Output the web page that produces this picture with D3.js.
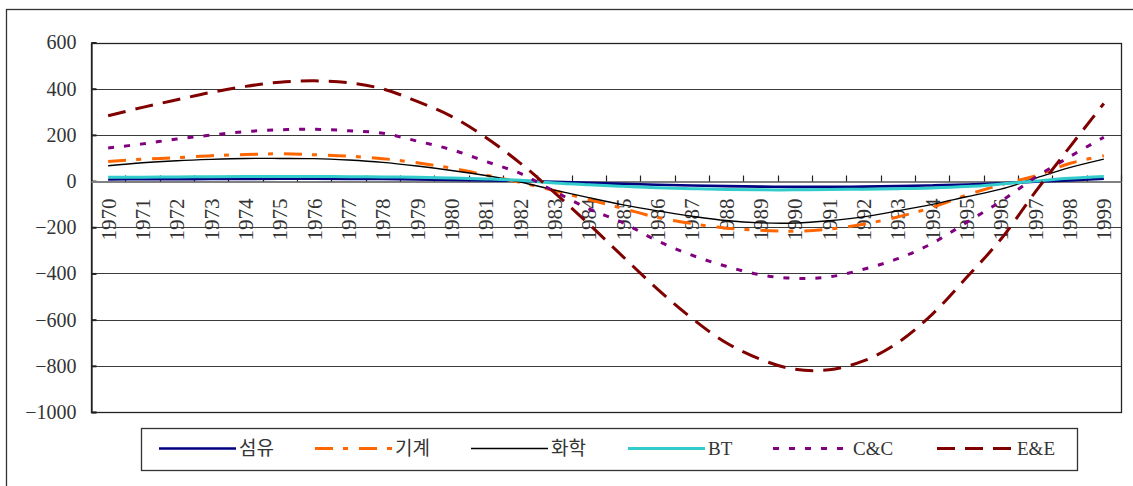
<!DOCTYPE html>
<html>
<head>
<meta charset="utf-8">
<script src="https://cdn.jsdelivr.net/npm/d3@7"></script>
<style>
  html, body { margin: 0; padding: 0; background: #fff; }
  svg { display: block; }
</style>
</head>
<body>
<script>
// Years on the category axis
const years = d3.range(1970, 2000).map(String);

// Series values by year, 1970–1999
const fiber     = [7, 8, 8, 9, 9, 10, 10, 9, 9, 7, 5, 3, 1, -3, -8, -12, -16, -19, -22, -24, -25, -25, -24, -22, -19, -15, -10, -3, 3, 10];
const machinery = [85, 95, 101, 110, 115, 118, 114, 108, 97, 79, 56, 26, -6, -42, -80, -119, -158, -184, -204, -213, -217, -208, -187, -155, -114, -61, -16, 22, 76, 110];
const chemical  = [66, 79, 88, 94, 98, 98, 97, 91, 81, 65, 46, 24, -4, -39, -72, -103, -129, -152, -171, -181, -182, -172, -155, -129, -101, -68, -35, 12, 58, 95];
const biotech   = [16, 17, 18, 19, 20, 20, 20, 19, 18, 16, 13, 9, 3, -8, -16, -23, -29, -33, -36, -38, -38, -37, -35, -33, -30, -24, -13, 0, 12, 20];
const commComp  = [143, 161, 182, 199, 214, 222, 224, 218, 207, 173, 136, 85, 33, -45, -120, -181, -259, -321, -369, -406, -421, -415, -382, -336, -270, -179, -88, 15, 105, 190];
const electric  = [283, 319, 352, 384, 410, 428, 434, 426, 399, 345, 280, 189, 78, -50, -186, -328, -468, -594, -700, -772, -815, -817, -779, -700, -577, -418, -252, -48, 146, 336];

// Series names as shown in the legend
const seriesNames = ["섬유", "기계", "화학", "BT", "C&C", "E&E"];

// Value-axis ticks and their labels
const yTicks = [600, 400, 200, 0, -200, -400, -600, -800, -1000];
const yTickLabels = ["600", "400", "200", "0", "\u2212200", "\u2212400", "\u2212600", "\u2212800", "\u22121000"];

const styles = [
  { color: "#000080", width: 2.6, dash: null },
  { color: "#FF6600", width: 3,   dash: "18,10,5,11" },
  { color: "#000000", width: 1.4, dash: null },
  { color: "#33CCCC", width: 3,   dash: null },
  { color: "#800080", width: 3,   dash: "6,10" },
  { color: "#800000", width: 3,   dash: "18,10" }
];
const seriesValues = [fiber, machinery, chemical, biotech, commComp, electric];

const SERIF = "'Liberation Serif', 'Times New Roman', 'DejaVu Serif', 'Noto Sans CJK KR', serif";

const W = 1133, H = 486;
const plot = { left: 91, right: 1121, top: 42.5, bottom: 412 };

const svg = d3.select("body").append("svg").attr("width", W).attr("height", H);

// Outer chart frame (runs past the right and bottom edges)
svg.append("rect")
  .attr("x", 6.5).attr("y", 9.5).attr("width", 1160).attr("height", 520)
  .attr("fill", "#fff").attr("stroke", "#333").attr("stroke-width", 1.3);

const x = d3.scaleBand().domain(years).range([plot.left, plot.right]).padding(0);
const y = d3.scaleLinear().domain([-1000, 600]).range([plot.bottom, plot.top]);

// Horizontal gridlines
svg.append("g").selectAll("line").data(yTicks).join("line")
  .attr("x1", plot.left).attr("x2", plot.right)
  .attr("y1", d => Math.round(y(d)) + 0.5).attr("y2", d => Math.round(y(d)) + 0.5)
  .attr("stroke", "#3a3a3a").attr("stroke-width", 1.2);

// Plot area border
svg.append("rect")
  .attr("x", plot.left + 0.5).attr("y", Math.round(plot.top) + 0.5)
  .attr("width", plot.right - plot.left).attr("height", Math.round(plot.bottom) - Math.round(plot.top))
  .attr("fill", "none").attr("stroke", "#222").attr("stroke-width", 1.3);

// Value axis
const yAxis = d3.axisLeft(y).tickValues(yTicks)
  .tickFormat((d, i) => yTickLabels[i]).tickSize(-5).tickPadding(15);
const yg = svg.append("g").attr("transform", `translate(${plot.left + 0.5},0)`).call(yAxis);
yg.attr("font-family", null);
yg.select(".domain").attr("stroke", "#222").attr("stroke-width", 1.3);
yg.selectAll(".tick line").attr("stroke", "#222").attr("stroke-width", 2);
yg.selectAll(".tick text")
  .style("font-family", SERIF).style("font-size", "20px")
  .attr("fill", "#333");

// Category axis crossing at zero
const y0 = Math.round(y(0)) + 0.5;
const xAxis = d3.axisBottom(x).tickSize(0).tickFormat(d => d);
const xg = svg.append("g").attr("transform", `translate(0,${y0})`).call(xAxis);
xg.attr("font-family", null);
xg.select(".domain").attr("stroke", "#808080").attr("stroke-width", 2);
xg.selectAll(".tick text")
  .attr("transform", "rotate(-90)")
  .attr("x", -17).attr("y", 0).attr("dy", "0.35em")
  .attr("text-anchor", "end")
  .style("font-family", SERIF).style("font-size", "21px")
  .attr("fill", "#333");
// Tick marks between categories, pointing up from the axis
svg.append("g").selectAll("line").data(years).join("line")
  .attr("x1", d => Math.round(x(d) + x.bandwidth()) + 0.5)
  .attr("x2", d => Math.round(x(d) + x.bandwidth()) + 0.5)
  .attr("y1", y0).attr("y2", y0 - 6)
  .attr("stroke", "#222").attr("stroke-width", 1.2);

// Series lines
const line = d3.line()
  .x((d, i) => x(years[i]) + x.bandwidth() / 2)
  .y(d => y(d))
  .curve(d3.curveCatmullRom.alpha(0.5));

svg.append("g").selectAll("path").data(seriesValues).join("path")
  .attr("d", d => line(d))
  .attr("fill", "none")
  .attr("stroke", (d, i) => styles[i].color)
  .attr("stroke-width", (d, i) => styles[i].width)
  .attr("stroke-dasharray", (d, i) => styles[i].dash);

// Legend
const legend = svg.append("g");
legend.append("rect")
  .attr("x", 141.5).attr("y", 428.5).attr("width", 936).attr("height", 42)
  .attr("fill", "#fff").attr("stroke", "#333").attr("stroke-width", 1.3);
const legendX = [159, 315, 471, 628, 773, 937];
const ly = 448.5;
seriesNames.forEach((name, i) => {
  legend.append("line")
    .attr("x1", legendX[i]).attr("x2", legendX[i] + 77)
    .attr("y1", ly).attr("y2", ly)
    .attr("stroke", styles[i].color)
    .attr("stroke-width", Math.max(styles[i].width, 1.4))
    .attr("stroke-dasharray", styles[i].dash);
  legend.append("text")
    .attr("x", legendX[i] + 80).attr("y", ly).attr("dy", "0.35em")
    .style("font-family", SERIF).style("font-size", "19px")
    .attr("fill", "#333")
    .text(name);
});
</script>
</body>
</html>
